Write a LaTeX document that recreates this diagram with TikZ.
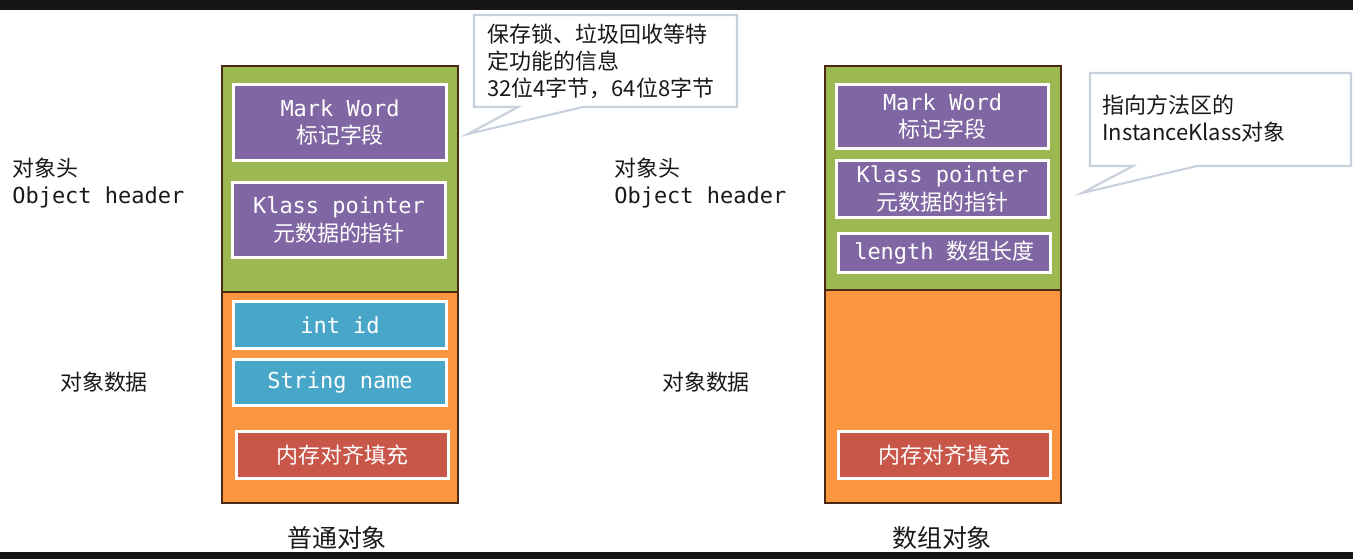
\documentclass[tikz,border=0pt]{standalone}
\usepackage{fontspec}
\setmainfont{Noto Sans CJK SC}
\setmonofont{DejaVu Sans Mono}
\usepackage{xcolor}

\definecolor{headgreen}{HTML}{9BB950}
\definecolor{dataorange}{HTML}{FB9640}
\definecolor{edgebrown}{HTML}{4A2A12}
\definecolor{wordpurple}{HTML}{8066A2}
\definecolor{fieldblue}{HTML}{48A6C8}
\definecolor{padred}{HTML}{C85649}
\definecolor{tipgray}{HTML}{C8D0DC}
\definecolor{barblack}{HTML}{151515}

\tikzset{
  field/.style={draw=white, line width=1.7pt, inner sep=0pt, minimum width=4.26cm,
    text=white, align=center, font=\fontsize{12.5}{15.4}\selectfont},
  wordbox/.style={field, fill=wordpurple},
  slotbox/.style={field, fill=fieldblue},
  padbox/.style={field, fill=padred},
  sidelabel/.style={inner sep=0pt, text=black!90, font=\fontsize{12.5}{15.4}\selectfont},
  tiptext/.style={inner sep=0pt, align=left, text=black!90, font=\fontsize{12.5}{15.4}\selectfont},
  tipshape/.style={fill=white, draw=tipgray, line width=1.2pt, line join=miter}
}

\begin{document}
\begin{tikzpicture}[x=0.02cm, y=-0.02cm]

        \useasboundingbox (0,0) rectangle (1353,559);

        %Bars
        \fill [barblack] (0,0) rectangle (1353,10);
        \fill [barblack] (0,552) rectangle (1353,559);

        %Ordinary object
        \fill [headgreen] (222,66) rectangle (458,292);
        \fill [dataorange] (222,292) rectangle (458,503);
        \draw [edgebrown, line width=1.1pt] (222,292) -- (458,292);
        \draw [edgebrown, line width=1.1pt] (222,66) rectangle (458,503);

        \node [wordbox, minimum height=1.52cm] (lmark) at (340,122.5) {{\ttfamily Mark Word}\\标记字段};
        \node [wordbox, minimum height=1.50cm] (lklass) at (339,220) {{\ttfamily Klass pointer}\\元数据的指针};
        \node [slotbox, minimum height=0.94cm] (lid) at (340,325) {\ttfamily int id};
        \node [slotbox, minimum height=0.92cm] (lname) at (340,382.5) {\ttfamily String name};
        \node [padbox, minimum height=0.94cm] (lpad) at (342.5,455) {内存对齐填充};

        \node [sidelabel, anchor=west] (lheadcn) at (12,168) {对象头};
        \node [sidelabel, anchor=west] (lheaden) at (12,197) {\ttfamily Object header};
        \node [sidelabel] (ldata) at (104,382) {对象数据};
        \node [sidelabel, font=\fontsize{14.2}{17}\selectfont] (ltitle) at (337,538) {普通对象};

        %Array object
        \fill [headgreen] (825,66) rectangle (1061,290);
        \fill [dataorange] (825,290) rectangle (1061,503);
        \draw [edgebrown, line width=1.1pt] (825,290) -- (1061,290);
        \draw [edgebrown, line width=1.1pt] (825,66) rectangle (1061,503);

        \node [wordbox, minimum height=1.28cm] (rmark) at (942.5,116.5) {{\ttfamily Mark Word}\\标记字段};
        \node [wordbox, minimum height=1.14cm] (rklass) at (942.5,189) {{\ttfamily Klass pointer}\\元数据的指针};
        \node [wordbox, minimum height=0.78cm] (rlen) at (944.5,253) {{\ttfamily length\ }数组长度};
        \node [padbox, minimum height=0.94cm] (rpad) at (944.5,455) {内存对齐填充};

        \node [sidelabel, anchor=west] (rheadcn) at (614,168) {对象头};
        \node [sidelabel, anchor=west] (rheaden) at (614,197) {\ttfamily Object header};
        \node [sidelabel] (rdata) at (706,382) {对象数据};
        \node [sidelabel, font=\fontsize{14.2}{17}\selectfont] (rtitle) at (942,538) {数组对象};

        %Callouts
        \draw [tipshape] (474,15) -- (737,15) -- (737,107) -- (583,107) -- (468,134) -- (518,107) -- (474,107) -- cycle;
        \node [tiptext, anchor=west] (marktip) at (487,61) {保存锁、垃圾回收等特\\定功能的信息\\32位4字节，64位8字节};

        \draw [tipshape] (1090,73) -- (1351,73) -- (1351,166) -- (1197,166) -- (1082,193) -- (1133,166) -- (1090,166) -- cycle;
        \node [tiptext, anchor=west] (klasstip) at (1102,118.5) {指向方法区的\\InstanceKlass对象};

\end{tikzpicture}
\end{document}
